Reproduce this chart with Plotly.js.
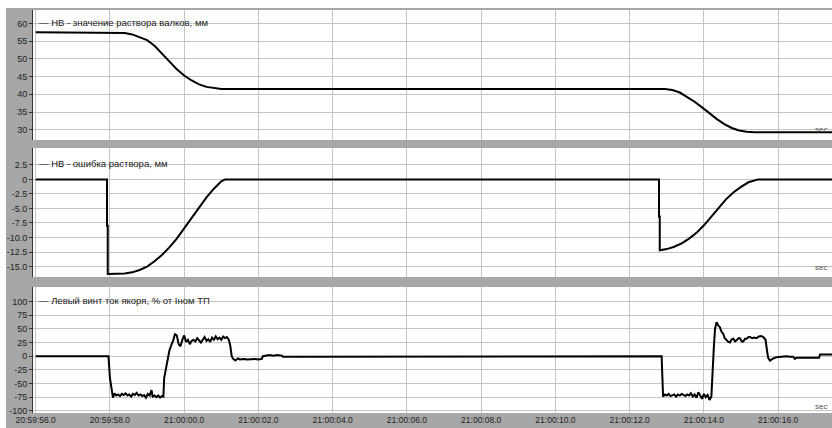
<!DOCTYPE html>
<html>
<head>
<meta charset="utf-8">
<script src="https://cdn.plot.ly/plotly-3.0.1.min.js"></script>
<style>html,body{margin:0;padding:0;background:#fff;}#chart{width:832px;height:428px;}</style>
</head>
<body>
<div id="chart"></div>
<script>
// time in seconds from 20:59:56.0
const xTickVals = [0, 2, 4, 6, 8, 10, 12, 14, 16, 18, 20];
const xTickText = ["20:59:56.0","20:59:58.0","21:00:00.0","21:00:02.0","21:00:04.0","21:00:06.0","21:00:08.0","21:00:10.0","21:00:12.0","21:00:14.0","21:00:16.0"];

const seriesNames = ["НВ - значение раствора валков, мм", "НВ - ошибка раствора, мм", "Левый винт ток якоря, % от Iном ТП"];

// Panel 1: roll gap value, mm
const posT = [0, 2.0, 2.2, 2.4, 2.6, 2.8, 3.0, 3.2, 3.4, 3.6, 3.8, 4.0, 4.2, 4.4, 4.6, 4.8, 5.0,
  16.95, 17.15, 17.35, 17.55, 17.75, 17.95, 18.15, 18.35, 18.55, 18.75, 18.95, 19.15, 19.35, 21.5];
const posV = [57.5, 57.5, 57.45, 57.3, 56.9, 56.2, 55.3, 53.7, 51.6, 49.3, 47.1, 45.3, 43.9, 42.8, 42.1, 41.7, 41.5,
  41.5, 41.2, 40.5, 39.3, 37.9, 36.3, 34.6, 33.0, 31.6, 30.5, 29.8, 29.4, 29.3, 29.3];
const posTickVals = [30, 35, 40, 45, 50, 55, 60];
const posTickText = ["30", "35", "40", "45", "50", "55", "60"];

// Panel 2: gap error, mm
const errT = [0, 1.92, 1.92, 1.94, 1.94, 2.0, 2.2, 2.4, 2.6, 2.8, 3.0, 3.2, 3.4, 3.6, 3.8, 4.0, 4.2, 4.4, 4.6, 4.8, 4.9, 5.0, 5.1,
  16.79, 16.79, 16.81, 16.81, 17.0, 17.2, 17.4, 17.6, 17.8, 18.0, 18.2, 18.4, 18.6, 18.8, 19.0, 19.2, 19.46, 21.5];
const errV = [0, 0, -8.0, -8.0, -16.3, -16.3, -16.3, -16.2, -16.0, -15.6, -15.0, -14.1, -13.0, -11.7, -10.2, -8.4, -6.6, -4.8, -3.1, -1.6, -0.9, -0.35, 0,
  0, -6.4, -6.4, -12.2, -12.0, -11.6, -11.0, -10.2, -9.2, -7.9, -6.3, -4.9, -3.4, -2.2, -1.3, -0.5, 0, 0];
const errTickVals = [2.5, 0, -2.5, -5, -7.5, -10, -12.5, -15];
const errTickText = ["2.5", "0", "-2.5", "-5.0", "-7.5", "-10.0", "-12.5", "-15.0"];

// Panel 3: left screw armature current, %
const curT = [0, 1.96, 2.00, 2.05, 2.08, 2.12, 2.17, 2.22, 2.27, 2.32, 2.37, 2.42, 2.47, 2.52, 2.57, 2.62, 2.67, 2.72, 2.77, 2.82, 2.87, 2.92, 2.97, 3.02, 3.07, 3.12, 3.15, 3.20, 3.25, 3.30, 3.35, 3.40, 3.44,
  3.46, 3.50, 3.55, 3.60, 3.65, 3.70, 3.75, 3.80, 3.85, 3.90, 3.95, 4.00, 4.05, 4.10, 4.15, 4.20, 4.25, 4.30, 4.35, 4.40, 4.45, 4.50, 4.55, 4.60, 4.65, 4.70, 4.75, 4.80, 4.85, 4.90, 4.95, 5.00, 5.05, 5.10, 5.15, 5.20,
  5.24, 5.28, 5.32, 5.38, 5.45, 5.50, 5.60, 5.70, 5.80, 5.90, 6.00, 6.09, 6.12, 6.20, 6.30, 6.40, 6.50, 6.63, 6.66, 7.00, 7.50, 7.70, 7.72,
  16.86, 16.90, 16.95, 17.00, 17.05, 17.10, 17.15, 17.20, 17.25, 17.30, 17.35, 17.40, 17.45, 17.50, 17.55, 17.60, 17.65, 17.70, 17.75, 17.80, 17.85, 17.90, 17.95, 18.00, 18.05, 18.10, 18.15, 18.20,
  18.23, 18.27, 18.30, 18.34, 18.38, 18.43, 18.47, 18.52, 18.56, 18.61, 18.66, 18.70, 18.75, 18.79, 18.84, 18.88, 18.93, 18.97, 19.02, 19.06, 19.11, 19.15, 19.20, 19.24, 19.30, 19.36, 19.42, 19.48, 19.54, 19.60, 19.66,
  19.70, 19.73, 19.78, 19.83, 19.87, 19.95, 20.05, 20.15, 20.23, 20.32, 20.40, 20.45, 20.49, 20.70, 20.90, 21.10, 21.13, 21.30, 21.50];
const curV = [0, 0, -40, -70, -76, -68, -72, -70, -73, -69, -71, -68, -72, -70, -74, -69, -71, -67, -72, -70, -73, -71, -76, -69, -72, -62, -74, -72, -75, -72, -76, -73, -74,
  -40, -25, -10, 10, 20, 28, 40, 38, 22, 18, 30, 38, 26, 30, 22, 28, 30, 27, 33, 29, 25, 30, 35, 28, 31, 26, 34, 30, 36, 31, 34, 30, 36, 33, 35, 30,
  20, 0, -5, -8, -4, -6, -5, -6, -5, -5, -6, -5, 0, 1, 2, 1, 2, 1, -1, -1, -1, -1, 0,
  0, -74, -70, -72, -69, -73, -71, -70, -74, -70, -72, -69, -71, -73, -70, -72, -68, -74, -70, -76, -66, -73, -78, -69, -75, -71, -80, -74,
  -20, 20, 50, 62, 57, 53, 45, 41, 33, 29, 26, 25, 31, 32, 27, 29, 33, 33, 27, 27, 32, 32, 35, 35, 33, 34, 33, 36, 37, 35, 30,
  10, -3, -8, -5, -4, -2, -1, 0, 0, -1, -1, -5, -3, -3, -3, -3, 3, 3, 3];
const curTickVals = [100, 75, 50, 25, 0, -25, -50, -75, -100];
const curTickText = ["100", "75", "50", "25", "0", "-25", "-50", "-75", "-100"];

// pixel helpers (layout only)
const W = 832, H = 428, ML = 33, MR = 0, MT = 10, MB = 15;
const PW = W - ML - MR, PH = H - MT - MB;
const fx = px => (px - ML) / PW;
const fy = py => (H - MB - py) / PH;

const lineStyle = {color: '#000', width: 2};
const traces = [
  {x: posT, y: posV, xaxis: 'x', yaxis: 'y', type: 'scatter', mode: 'lines', line: lineStyle, name: seriesNames[0]},
  {x: errT, y: errV, xaxis: 'x2', yaxis: 'y2', type: 'scatter', mode: 'lines', line: lineStyle, name: seriesNames[1]},
  {x: curT, y: curV, xaxis: 'x3', yaxis: 'y3', type: 'scatter', mode: 'lines', line: {color: '#000', width: 2}, name: seriesNames[2]}
];

const xRange = [-0.073, 21.45];
const gridCol = '#c4c4c4';
const tickFont = {family: 'Liberation Sans, Arial, sans-serif', size: 9, color: '#222'};
const xTickFont = {family: 'Liberation Sans, Arial, sans-serif', size: 8.5, color: '#222'};
function xa(anchor, show) {
  return {range: xRange, anchor: anchor, tickvals: xTickVals, ticktext: xTickText, showticklabels: show,
    showgrid: true, gridcolor: gridCol, gridwidth: 1, zeroline: false, showline: false,
    ticks: '', tickfont: xTickFont, fixedrange: true};
}
function ya(anchor, dom, range, tv, tt) {
  return {domain: dom, range: range, anchor: anchor, tickvals: tv, ticktext: tt,
    showgrid: true, gridcolor: gridCol, gridwidth: 1, zeroline: false, showline: true, linecolor: '#333', linewidth: 1,
    ticks: 'outside', ticklen: 3, tickcolor: '#333', tickfont: tickFont, fixedrange: true};
}

const annFont = {family: 'Liberation Sans, Arial, sans-serif', size: 9.5, color: '#222'};
const secFont = {family: 'Liberation Sans, Arial, sans-serif', size: 8, color: '#555'};
const annotations = [
  {text: '— ' + seriesNames[0], xref: 'paper', yref: 'paper', x: fx(37), y: fy(23), xanchor: 'left', yanchor: 'middle', showarrow: false, font: annFont},
  {text: '— ' + seriesNames[1], xref: 'paper', yref: 'paper', x: fx(37), y: fy(163), xanchor: 'left', yanchor: 'middle', showarrow: false, font: annFont},
  {text: '— ' + seriesNames[2], xref: 'paper', yref: 'paper', x: fx(37), y: fy(300), xanchor: 'left', yanchor: 'middle', showarrow: false, font: annFont},
  {text: 'sec', xref: 'paper', yref: 'paper', x: fx(821), y: fy(129), xanchor: 'center', yanchor: 'middle', showarrow: false, font: secFont},
  {text: 'sec', xref: 'paper', yref: 'paper', x: fx(821), y: fy(267), xanchor: 'center', yanchor: 'middle', showarrow: false, font: secFont},
  {text: 'sec', xref: 'paper', yref: 'paper', x: fx(821), y: fy(406), xanchor: 'center', yanchor: 'middle', showarrow: false, font: secFont}
];

const shapes = [
  {type: 'rect', xref: 'paper', yref: 'paper', x0: fx(0), x1: fx(W), y0: fy(8), y1: fy(0), fillcolor: '#ffffff', line: {width: 0}, layer: 'below'},
  {type: 'rect', xref: 'paper', yref: 'paper', x0: fx(0), x1: fx(6), y0: fy(H), y1: fy(0), fillcolor: '#ffffff', line: {width: 0}, layer: 'below'}
];

const layout = {
  width: W, height: H,
  margin: {l: ML, r: MR, t: MT, b: MB, pad: 0},
  paper_bgcolor: '#a7a7a7', plot_bgcolor: '#ffffff',
  showlegend: false,
  xaxis: xa('y', false),
  xaxis2: xa('y2', false),
  xaxis3: xa('y3', true),
  yaxis: ya('x', [fy(140), fy(10)], [27.1, 63.8], posTickVals, posTickText),
  yaxis2: ya('x2', [fy(277), fy(148)], [-16.8, 5.4], errTickVals, errTickText),
  yaxis3: ya('x3', [fy(413), fy(287)], [-104, 126.6], curTickVals, curTickText),
  annotations: annotations,
  shapes: shapes,
  font: {family: 'Liberation Sans, Arial, sans-serif'}
};

Plotly.newPlot('chart', traces, layout, {staticPlot: true, displayModeBar: false});
</script>
</body>
</html>
